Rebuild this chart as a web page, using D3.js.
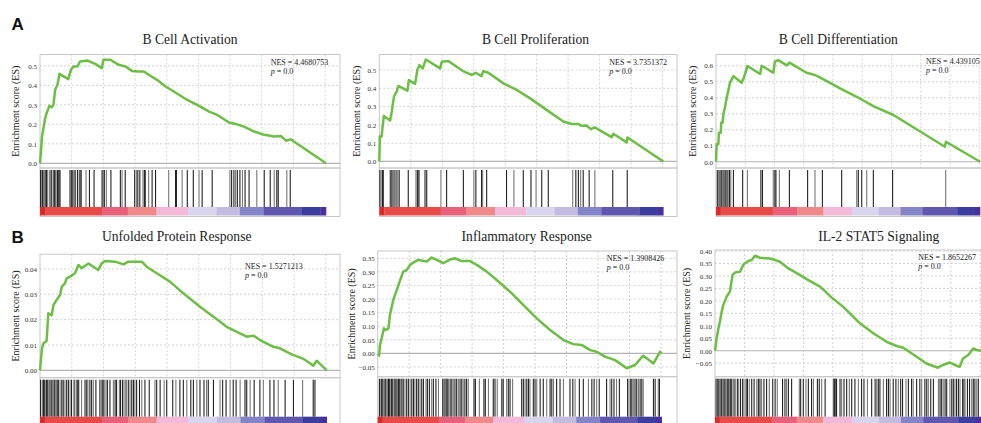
<!DOCTYPE html>
<html>
<head>
<meta charset="utf-8">
<script src="https://cdn.jsdelivr.net/npm/d3@7"></script>
<style>
  body { margin: 0; background: #fff; }
  text { font-family: "Liberation Serif", "Times New Roman", serif; fill: #222; }
</style>
</head>
<body>
<div id="chart"></div>
<script>
// panel titles and stats
const titles = ["B Cell Activation", "B Cell Proliferation", "B Cell Differentiation",
                "Unfolded Protein Response", "Inflammatory Response", "IL-2 STAT5 Signaling"];
const nesValues = ["4.4680753", "3.7351372", "4.439105", "1.5271213", "1.3908426", "1.8652267"];
const pValues = ["0.0", "0.0", "0.0", "0.0", "0.0", "0.0"];

// running enrichment score, [rank (per mille of ranked list), ES]
const esActivation = [[0,0],[3.5,.068],[7,.137],[12,.18],[18,.231],[23,.257],[33,.295],[41,.288],[47,.30],[53,.377],[61,.402],[68,.459],[99,.432],[108,.479],[117,.497],[131,.497],[140,.522],[166,.527],[193,.51],[216,.488],[222,.531],[246,.531],[275,.505],[298,.497],[322,.474],[345,.471],[363,.471],[380,.454],[409,.428],[439,.394],[468,.368],[515,.325],[561,.291],[591,.265],[620,.248],[661,.209],[684,.202],[713,.188],[749,.163],[784,.146],[819,.137],[842,.14],[860,.116],[877,.123],[889,.111],[1000,0]];
const esProliferation = [[0,0],[2,.136],[8,.136],[12,.195],[16,.249],[38,.224],[44,.273],[47,.309],[52,.355],[61,.382],[67,.413],[99,.387],[104,.445],[126,.424],[134,.5],[141,.527],[153,.509],[164,.558],[214,.509],[220,.545],[243,.549],[293,.496],[325,.473],[340,.485],[360,.467],[366,.494],[384,.485],[437,.427],[484,.391],[531,.345],[589,.282],[648,.218],[677,.205],[700,.205],[712,.195],[729,.196],[746,.176],[758,.187],[818,.133],[824,.151],[871,.104],[874,.131],[1000,0]];
const esDifferentiation = [[0,0],[2.5,.11],[9,.11],[11,.181],[18,.181],[20,.244],[25,.244],[28,.298],[35,.348],[40,.396],[47,.448],[53,.494],[66,.535],[97,.494],[106,.527],[119,.598],[167,.548],[173,.6],[217,.556],[223,.625],[236,.635],[268,.602],[278,.619],[343,.556],[375,.542],[400,.521],[470,.458],[533,.406],[596,.348],[672,.292],[867,.094],[871,.125],[1000,0]];
const esUnfolded = [[0,0],[3.5,.0047],[7,.0087],[12,.0107],[23,.0116],[29,.0225],[41,.0218],[47,.0258],[58,.0278],[70,.0297],[76,.033],[87,.0343],[93,.0363],[105,.037],[122,.0383],[134,.0416],[145,.0403],[169,.0422],[186,.0409],[203,.0396],[215,.0422],[227,.0432],[262,.0429],[291,.0418],[308,.0429],[355,.0429],[372,.0409],[407,.0383],[453,.035],[500,.0304],[558,.0251],[605,.0212],[651,.0172],[674,.0159],[721,.0133],[744,.0137],[773,.0116],[814,.0093],[837,.0087],[878,.0063],[919,.0045],[942,.0028],[953,.0018],[965,.0038],[1000,0]];
const esInflammatory = [[0,0],[5,-.0086],[8,.0307],[14,.0553],[22,.092],[29,.086],[38,.092],[43,.141],[55,.197],[67,.233],[79,.27],[90,.301],[102,.307],[114,.326],[131,.338],[143,.344],[173,.338],[190,.353],[208,.344],[231,.332],[255,.346],[272,.35],[296,.34],[325,.34],[349,.326],[384,.301],[419,.27],[466,.227],[513,.178],[560,.129],[607,.086],[654,.049],[689,.034],[718,.031],[748,.012],[771,.006],[800,-.012],[836,-.025],[877,-.055],[906,-.043],[935,-.0086],[947,-.018],[971,-.037],[988,-.006],[994,.006],[1000,0]];
const esIL2 = [[0,0],[6,.049],[13,.09],[19,.119],[25,.156],[31,.183],[44,.217],[56,.237],[66,.303],[75,.314],[94,.317],[107,.346],[125,.36],[138,.364],[150,.381],[169,.373],[207,.37],[226,.364],[244,.357],[276,.33],[320,.303],[351,.283],[395,.257],[439,.213],[482,.176],[545,.11],[595,.07],[645,.036],[683,.019],[708,.012],[758,-.024],[795,-.051],[838,-.068],[857,-.057],[882,-.047],[907,-.06],[920,-.064],[932,-.031],[952,-.017],[971,.009],[984,.003],[1000,0]];

// gene set hit ranks (per mille)
const hitsActivation = [2,6,9,14,18,21,23,27,35,41,47,50,53,56,61,64,68,70,105,109,111,115,119,123,131,137,140,144,161,173,189,216,220,225,232,248,281,287,298,331,337,342,349,360,365,368,380,392,404,450,474,477,497,515,536,556,567,602,664,670,678,684,690,699,708,717,731,758,784,805,819,828,833,863,875];
const hitsProliferation = [2,6,11,14,38,41,45,47,52,59,65,70,102,129,134,137,141,161,167,217,237,296,333,340,360,364,378,448,474,507,534,552,572,595,681,692,701,709,718,739,759,822,873];
const hitsDifferentiation = [5,10,15,20,25,30,35,40,45,51,56,66,101,119,170,176,217,223,227,240,278,347,375,403,476,533,539,552,571,596,669,870];
const hitsUnfolded = [2,8,12,15,20,23,27,31,35,41,44,49,52,56,60,64,70,76,81,87,93,99,105,110,119,126,130,135,145,157,163,167,174,180,186,195,209,215,219,223,230,235,244,256,262,267,277,281,288,293,300,308,314,320,326,331,337,347,355,366,381,401,407,419,433,442,463,474,488,500,512,526,535,547,558,572,581,587,605,628,637,649,663,674,684,698,715,721,733,747,767,779,802,816,831,855,884,916,953,959];
const hitsInflammatory = [6,11,14,18,22,26,29,34,38,41,46,49,53,58,61,65,69,73,76,81,85,90,96,102,108,114,120,126,131,137,143,149,155,161,170,175,182,190,196,205,214,229,234,237,241,245,249,255,261,266,272,278,284,290,296,301,307,313,319,339,344,358,374,379,390,407,413,421,437,442,454,460,466,475,507,513,519,525,531,536,548,554,560,572,583,595,607,613,619,630,642,654,677,687,695,710,724,742,754,762,771,780,806,818,824,832,841,851,880,885,891,895,900,906,912,918,924,930,935,971,977,988,992];
const hitsIL2 = [4,8,11,15,19,23,26,30,34,38,41,46,50,54,59,63,69,75,84,89,96,104,109,117,122,129,138,147,157,163,169,175,184,194,204,217,226,234,254,263,269,276,288,317,322,332,342,351,363,370,385,392,401,414,445,447,450,452,455,457,470,476,485,495,505,514,526,539,551,560,573,589,602,608,614,620,633,645,652,658,670,680,689,698,705,718,727,739,745,758,770,777,789,796,802,811,821,840,846,852,858,865,871,883,890,896,902,908,915,921,931,936,940,949,957,965,971,977,984,990];

// y tick values per panel
const ticksA1 = [0, 0.1, 0.2, 0.3, 0.4, 0.5];
const ticksA2 = [0, 0.1, 0.2, 0.3, 0.4, 0.5];
const ticksA3 = [0, 0.1, 0.2, 0.3, 0.4, 0.5, 0.6];
const ticksB1 = [0, 0.01, 0.02, 0.03, 0.04];
const ticksB2 = [-0.05, 0, 0.05, 0.10, 0.15, 0.20, 0.25, 0.30, 0.35];
const ticksB3 = [-0.05, 0, 0.05, 0.10, 0.15, 0.20, 0.25, 0.30, 0.35, 0.40];

// ranked list metric colour bar (per mille breaks)
const barBreaks = [0, 17.5, 216, 307, 407, 517, 617, 699, 783, 916, 980, 1000];
const barColors = ["#d92b2b", "#e84a4a", "#e8607a", "#f08a8a", "#f2b9d8", "#d9d5ec",
                   "#c3bce0", "#8484c8", "#5f57b0", "#3b3e9f", "#4b2fa0"];
const gridStep = 110.8; // 2000 genes of ~18050

const panels = [
  {es: esActivation, hits: hitsActivation, ticks: ticksA1, fmt: ".1f",
   left: 40, end: 326, right: 340, top: 54.5, esBottom: 168, hitBottom: 207, barBottom: 215.5,
   yDom: [-0.024, 0.558], titleX: 190, titleY: 44.3, labelX: 15, nesX: 270.7, nesY: 65},
  {es: esProliferation, hits: hitsProliferation, ticks: ticksA2, fmt: ".1f",
   left: 379.3, end: 663.3, right: 677, top: 54.5, esBottom: 168, hitBottom: 207, barBottom: 215.5,
   yDom: [-0.036, 0.585], titleX: 535.5, titleY: 44.3, labelX: 356.7, nesX: 609.3, nesY: 65},
  {es: esDifferentiation, hits: hitsDifferentiation, ticks: ticksA3, fmt: ".1f",
   left: 716, end: 980, right: 996, top: 54.5, esBottom: 168, hitBottom: 207, barBottom: 215.5,
   yDom: [-0.039, 0.67], titleX: 838.3, titleY: 44.3, labelX: 692.3, nesX: 926, nesY: 64},
  {es: esUnfolded, hits: hitsUnfolded, ticks: ticksB1, fmt: ".2f",
   left: 40, end: 326.7, right: 340, top: 254.3, esBottom: 377.7, hitBottom: 416.7, barBottom: 426,
   yDom: [-0.0029, 0.0458], titleX: 176.7, titleY: 241, labelX: 15, nesX: 245, nesY: 269.3},
  {es: esInflammatory, hits: hitsInflammatory, ticks: ticksB2, fmt: ".2f",
   left: 377.7, end: 661.7, right: 677, top: 251, esBottom: 376.7, hitBottom: 416.7, barBottom: 426,
   yDom: [-0.086, 0.377], titleX: 526.7, titleY: 241, labelX: 351, nesX: 606.7, nesY: 260.7},
  {es: esIL2, hits: hitsIL2, ticks: ticksB3, fmt: ".2f",
   left: 715, end: 981, right: 996, top: 250, esBottom: 376.7, hitBottom: 416.7, barBottom: 426,
   yDom: [-0.104, 0.404], titleX: 878.8, titleY: 240.5, labelX: 686.7, nesX: 918.3, nesY: 260}
];

const svg = d3.select("#chart").append("svg")
    .attr("width", 981)
    .attr("height", 423);

// panel letters
svg.selectAll(".letter")
    .data([["A", 30], ["B", 243.3]])
  .enter().append("text")
    .attr("x", 11.5)
    .attr("y", d => d[1])
    .style("font-family", "'Liberation Sans', Arial, sans-serif")
    .style("font-weight", "bold")
    .style("font-size", "17px")
    .style("fill", "#111")
    .text(d => d[0]);

panels.forEach(function(p, i) {
  const g = svg.append("g");
  const x = d3.scaleLinear().domain([0, 1000]).range([p.left, p.end]);
  const y = d3.scaleLinear().domain(p.yDom).range([p.esBottom, p.top]);
  const xMax = x.invert(p.right);

  // vertical dashed grid
  g.selectAll(".vgrid")
      .data(d3.range(gridStep, xMax, gridStep))
    .enter().append("line")
      .attr("x1", d => x(d)).attr("x2", d => x(d))
      .attr("y1", p.top).attr("y2", p.esBottom)
      .attr("stroke", "#d2d2d2")
      .attr("stroke-dasharray", "2,2");

  // horizontal dashed grid
  g.selectAll(".hgrid")
      .data(p.ticks.filter(t => t !== 0))
    .enter().append("line")
      .attr("x1", p.left).attr("x2", p.right)
      .attr("y1", d => y(d)).attr("y2", d => y(d))
      .attr("stroke", "#d2d2d2")
      .attr("stroke-dasharray", "2,2");

  // zero line
  g.append("line")
      .attr("x1", p.left).attr("x2", p.right)
      .attr("y1", y(0)).attr("y2", y(0))
      .attr("stroke", "#b4b4b4")
      .attr("stroke-width", 1.2);

  // frames
  g.append("rect")
      .attr("x", p.left).attr("y", p.top)
      .attr("width", p.right - p.left).attr("height", p.esBottom - p.top)
      .attr("fill", "none").attr("stroke", "#c8c8c8");
  g.append("rect")
      .attr("x", p.left).attr("y", p.esBottom)
      .attr("width", p.right - p.left).attr("height", p.barBottom - p.esBottom + 1)
      .attr("fill", "none").attr("stroke", "#c8c8c8");

  // y tick labels
  const axis = d3.axisLeft(y)
      .tickValues(p.ticks)
      .tickSize(0)
      .tickPadding(3)
      .tickFormat(d3.format(p.fmt));
  const ax = g.append("g")
      .attr("transform", "translate(" + p.left + ",0)")
      .call(axis);
  ax.select(".domain").remove();
  ax.selectAll("text")
      .style("font-family", "'Liberation Serif', serif")
      .style("font-size", "7px")
      .style("fill", "#333");

  // ES curve
  g.append("path")
      .datum(p.es)
      .attr("fill", "none")
      .attr("stroke", "#6cbe45")
      .attr("stroke-width", 2.5)
      .attr("stroke-linejoin", "round")
      .attr("d", d3.line().x(d => x(d[0])).y(d => y(d[1])));

  // hits
  g.selectAll(".hit")
      .data(p.hits)
    .enter().append("line")
      .attr("x1", d => x(d)).attr("x2", d => x(d))
      .attr("y1", p.esBottom + 2).attr("y2", p.hitBottom)
      .attr("stroke", (d, j) => j % 3 === 1 ? "#777" : "#222")
      .attr("stroke-width", 1.1);

  // colour bar
  g.selectAll(".bar")
      .data(barColors)
    .enter().append("rect")
      .attr("x", (d, j) => x(barBreaks[j]))
      .attr("y", p.hitBottom)
      .attr("width", (d, j) => x(barBreaks[j + 1]) - x(barBreaks[j]) + 0.3)
      .attr("height", p.barBottom - p.hitBottom)
      .attr("fill", d => d);

  // title
  g.append("text")
      .attr("x", p.titleX).attr("y", p.titleY)
      .attr("text-anchor", "middle")
      .style("font-size", "13.6px")
      .text(titles[i]);

  // y label
  g.append("text")
      .attr("transform", "translate(" + p.labelX + "," + ((p.top + p.esBottom) / 2) + ") rotate(-90)")
      .attr("text-anchor", "middle")
      .attr("dy", "0.35em")
      .style("font-size", "10px")
      .text("Enrichment score (ES)");

  // NES and p
  g.append("text")
      .attr("x", p.nesX).attr("y", p.nesY)
      .style("font-size", "8px")
      .text("NES = " + nesValues[i]);
  const pt = g.append("text")
      .attr("x", p.nesX).attr("y", p.nesY + 9)
      .style("font-size", "8px");
  pt.append("tspan").style("font-style", "italic").text("p");
  pt.append("tspan").text(" = " + pValues[i]);
});
</script>
</body>
</html>
